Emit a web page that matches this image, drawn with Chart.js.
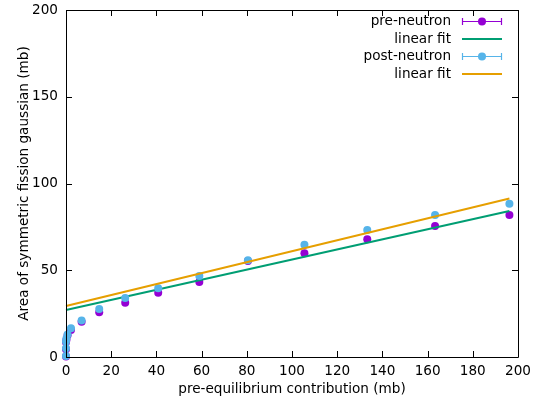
<!DOCTYPE html>
<html>
<head>
<meta charset="utf-8">
<script src="https://cdn.jsdelivr.net/npm/chart.js@4/dist/chart.umd.min.js"></script>
<style>
  html, body { margin: 0; padding: 0; background: #fff; }
  #wrap { width: 534px; height: 403px; position: relative; }
</style>
</head>
<body>
<div id="wrap"><canvas id="c"></canvas></div>
<script>
// pre-equilibrium contribution (mb)
const xPre = [0, 0, 0, 0.2, 0.7, 2.2, 6.9, 14.7, 26.2, 40.8, 59, 80.5, 105.5, 133.3, 163.3, 196.2];
// area of symmetric fission gaussian (mb)
const preNeutron  = [0.3, 4.5, 8.5, 10, 12.5, 15.6, 20.3, 25.8, 31.3, 37, 43.2, 55.3, 59.8, 67.8, 75.5, 81.8];
const postNeutron = [0.6, 5, 9, 10.6, 13, 16.5, 21.1, 27.7, 34, 39.6, 46.7, 55.7, 64.7, 73.2, 81.8, 88.4];
// fitted line endpoints
const fitPreEnds  = [[0, 27.1], [196.2, 84.2]];
const fitPostEnds = [[0, 29.4], [196.2, 91.4]];

const xTicks = [0, 20, 40, 60, 80, 100, 120, 140, 160, 180, 200];
const yTicks = [0, 50, 100, 150, 200];

const PURPLE = "#9400d3", GREEN = "#009e73", BLUE = "#56b4e9", ORANGE = "#e69f00";
const FONT = "'DejaVu Sans', sans-serif";
const FS = 13.6;

const pts = ys => xPre.map((x, i) => ({ x: x, y: ys[i] }));
const seg = e => e.map(p => ({ x: p[0], y: p[1] }));

// gnuplot-style frame, inward ticks and key
const framePlugin = {
  id: "frame",
  afterDraw(chart) {
    const ctx = chart.ctx, a = chart.chartArea;
    const xs = chart.scales.x, ys = chart.scales.y;
    ctx.save();
    ctx.strokeStyle = "#000";
    ctx.lineWidth = 1;
    ctx.beginPath();
    ctx.rect(Math.round(a.left) + 0.5, Math.round(a.top) + 0.5, Math.round(a.right - a.left), Math.round(a.bottom - a.top));
    const tl = 6;
    xTicks.forEach(v => {
      const px = Math.round(xs.getPixelForValue(v)) + 0.5;
      ctx.moveTo(px, a.bottom); ctx.lineTo(px, a.bottom - tl);
      ctx.moveTo(px, a.top); ctx.lineTo(px, a.top + tl);
    });
    yTicks.forEach(v => {
      const py = Math.round(ys.getPixelForValue(v)) + 0.5;
      ctx.moveTo(a.left, py); ctx.lineTo(a.left + tl, py);
      ctx.moveTo(a.right, py); ctx.lineTo(a.right - tl, py);
    });
    ctx.stroke();

    // key
    const keys = [
      { label: "pre-neutron", color: PURPLE, point: true },
      { label: "linear fit", color: GREEN, point: false },
      { label: "post-neutron", color: BLUE, point: true },
      { label: "linear fit", color: ORANGE, point: false }
    ];
    ctx.font = FS + "px " + FONT;
    ctx.textAlign = "right";
    ctx.textBaseline = "middle";
    keys.forEach((k, i) => {
      const y = Math.round(21 + i * 17.6);
      ctx.fillStyle = "#000";
      ctx.fillText(k.label, 451, y);
      ctx.strokeStyle = k.color;
      ctx.fillStyle = k.color;
      ctx.lineWidth = k.point ? 1.2 : 2;
      ctx.beginPath();
      const ly = k.point ? y + 0.5 : y;
      ctx.moveTo(462, ly); ctx.lineTo(502, ly);
      if (k.point) {
        ctx.moveTo(462.5, y - 3); ctx.lineTo(462.5, y + 4);
        ctx.moveTo(501.5, y - 3); ctx.lineTo(501.5, y + 4);
      }
      ctx.stroke();
      if (k.point) {
        ctx.beginPath();
        ctx.arc(482, y + 0.5, 4, 0, Math.PI * 2);
        ctx.fill();
      }
    });
    ctx.restore();
  }
};

new Chart(document.getElementById("c"), {
  type: "scatter",
  data: {
    datasets: [
      { label: "pre-neutron", data: pts(preNeutron), backgroundColor: PURPLE, borderColor: PURPLE,
        pointRadius: 4, pointBorderWidth: 0, showLine: false, clip: false, order: 3 },
      { label: "linear fit", data: seg(fitPreEnds), borderColor: GREEN, borderWidth: 2,
        pointRadius: 0, showLine: true, clip: false, order: 2 },
      { label: "post-neutron", data: pts(postNeutron), backgroundColor: BLUE, borderColor: BLUE,
        pointRadius: 4, pointBorderWidth: 0, showLine: false, clip: false, order: 1 },
      { label: "linear fit", data: seg(fitPostEnds), borderColor: ORANGE, borderWidth: 2,
        pointRadius: 0, showLine: true, clip: false, order: 0 }
    ]
  },
  options: {
    responsive: true,
    maintainAspectRatio: false,
    animation: false,
    layout: { padding: { top: 10, right: 16, left: 0, bottom: 0 } },
    plugins: { legend: { display: false }, tooltip: { enabled: false } },
    scales: {
      x: {
        type: "linear", min: 0, max: 200,
        afterBuildTicks: s => { s.ticks = xTicks.map(v => ({ value: v })); },
        afterFit: s => { s.height = 46; s.paddingLeft = 0; s.paddingRight = 0; },
        grid: { display: false, drawTicks: false },
        border: { display: false },
        ticks: { color: "#000", font: { family: FONT, size: FS }, padding: 6, maxRotation: 0 },
        title: { display: true, text: "pre-equilibrium contribution (mb)", color: "#000",
                 font: { family: FONT, size: FS }, padding: { top: 0, bottom: 5 } }
      },
      y: {
        type: "linear", min: 0, max: 200,
        afterBuildTicks: s => { s.ticks = yTicks.map(v => ({ value: v })); },
        afterFit: s => { s.width = 66; s.paddingTop = 0; s.paddingBottom = 0; },
        grid: { display: false, drawTicks: false },
        border: { display: false },
        ticks: { color: "#000", font: { family: FONT, size: FS }, padding: 8 },
        title: { display: true, text: "Area of symmetric fission gaussian (mb)", color: "#000",
                 font: { family: FONT, size: FS }, padding: { top: 16, bottom: 0 } }
      }
    }
  },
  plugins: [framePlugin]
});
</script>
</body>
</html>
